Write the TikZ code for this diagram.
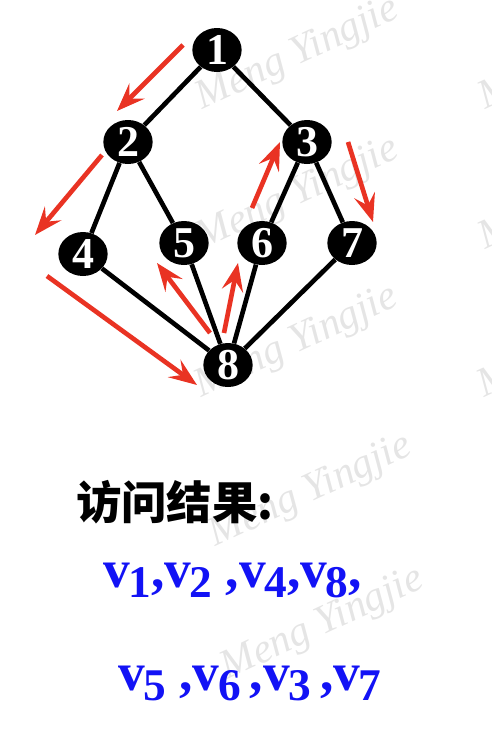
\documentclass[tikz,border=0pt]{standalone}
\usepackage{fontspec}
\setmainfont{Liberation Serif}
\newfontfamily\cjk{Noto Sans CJK SC}
\usetikzlibrary{shapes.geometric,arrows.meta}
\definecolor{visitred}{RGB}{233,51,35}
\definecolor{seqblue}{RGB}{18,18,245}
\newcommand{\vsub}[1]{v\kern-1pt\raisebox{-8pt}{\fontsize{34}{40}\selectfont #1}}

\begin{document}
\begin{tikzpicture}[x=0.75pt,y=0.75pt,yscale=-1,xscale=1,
  vertex/.style={ellipse,fill=black,minimum width=37pt,minimum height=33pt,inner sep=0pt,text=white,font=\fontsize{33}{33}\selectfont\bfseries},
  edge/.style={line width=3.5pt},
  visit/.style={draw=visitred,line width=3.5pt,-{Stealth[length=21pt,width=16pt,inset=8pt]}},
  wmark/.style={text=black!10,font=\fontsize{31}{31}\selectfont\itshape,rotate=25},
  seq/.style={anchor=base west,inner sep=0pt,text=seqblue,font=\fontsize{40}{48}\selectfont\bfseries}]
\useasboundingbox (0,0) rectangle (492,750);
\clip (0,0) rectangle (492,750);

% Watermark
\node[wmark] (wm1) at (298,55) {Meng Yingjie};
\node[wmark] (wm2) at (298,195) {Meng Yingjie};
\node[wmark] (wm3) at (297,343) {Meng Yingjie};
\node[wmark] (wm4) at (311,492) {Meng Yingjie};
\node[wmark] (wm5) at (323,625) {Meng Yingjie};
\node[wmark] (wm6) at (581,55) {Meng Yingjie};
\node[wmark] (wm7) at (581,195) {Meng Yingjie};
\node[wmark] (wm8) at (580,343) {Meng Yingjie};

% Vertices
\node[vertex] (n1) at (217,50) {1};
\node[vertex] (n2) at (128,142) {2};
\node[vertex] (n3) at (307,142) {3};
\node[vertex] (n4) at (83,254) {4};
\node[vertex] (n5) at (184,243) {5};
\node[vertex] (n6) at (262,243) {6};
\node[vertex] (n7) at (352,243) {7};
\node[vertex] (n8) at (228,365) {8};

% Edges
\draw[edge] (n1) -- (n2);
\draw[edge] (n1) -- (n3);
\draw[edge] (n2) -- (n4);
\draw[edge] (n2) -- (n5);
\draw[edge] (n3) -- (n6);
\draw[edge] (n3) -- (n7);
\draw[edge] (n4) -- (n8);
\draw[edge] (n5) -- (n8);
\draw[edge] (n6) -- (n8);
\draw[edge] (n7) -- (n8);

% Traversal arrows
\coordinate (a1s) at (183,45);  \coordinate (a1e) at (117,111);
\coordinate (a2s) at (102,155); \coordinate (a2e) at (35,235);
\coordinate (a3s) at (47,276);  \coordinate (a3e) at (197,385);
\coordinate (a4s) at (210,333); \coordinate (a4e) at (157,263);
\coordinate (a5s) at (224,333); \coordinate (a5e) at (238,263);
\coordinate (a6s) at (252,208); \coordinate (a6e) at (280,142);
\coordinate (a7s) at (348,142); \coordinate (a7e) at (373,222);
\draw[visit] (a1s) -- (a1e);
\draw[visit] (a2s) -- (a2e);
\draw[visit] (a3s) -- (a3e);
\draw[visit] (a4s) -- (a4e);
\draw[visit] (a5s) -- (a5e);
\draw[visit] (a6s) -- (a6e);
\draw[visit] (a7s) -- (a7e);

% Text Node
\node[anchor=west,inner sep=0pt,font=\cjk\fontsize{34}{34}\selectfont\bfseries] (title) at (76,502) {访问结果:};
% Text Node
\node[seq] (seqa) at (103,587) {\vsub{1},\vsub{2} ,\vsub{4},\vsub{8},};
% Text Node
\node[seq] (seqb) at (118,690) {\vsub{5} ,\vsub{6}\,,\vsub{3}\,,\vsub{7}};

\end{tikzpicture}
\end{document}
